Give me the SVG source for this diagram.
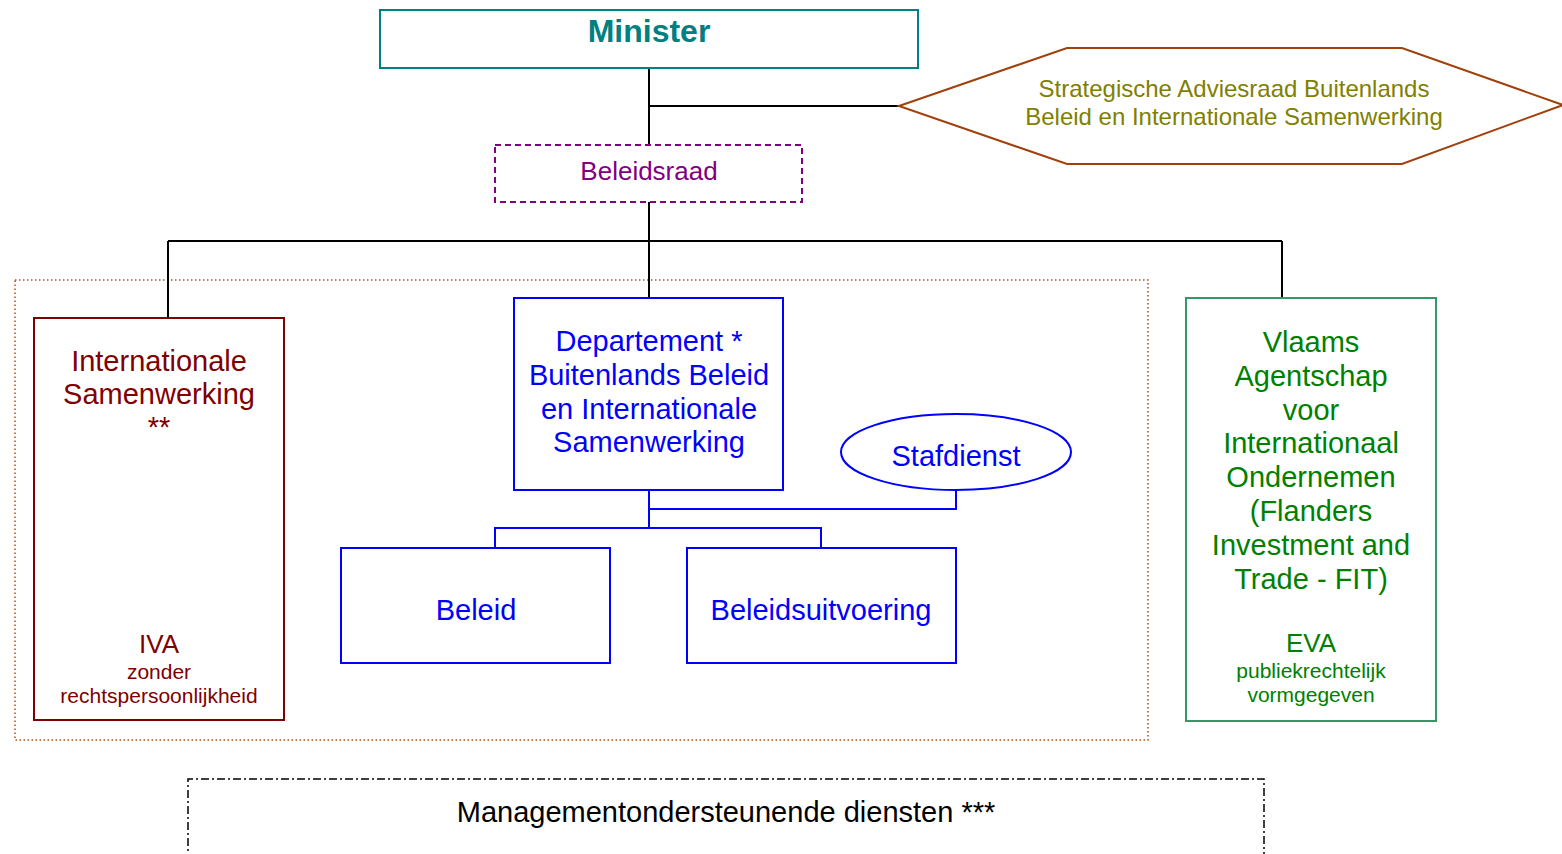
<svg xmlns="http://www.w3.org/2000/svg" width="1562" height="854" viewBox="0 0 1562 854">
<style>
text{font-family:"Liberation Sans",Arial,sans-serif;text-anchor:middle}
.box{fill:#fff;stroke-width:2}
.conn{fill:none;stroke:#000;stroke-width:2}
.bconn{fill:none;stroke:#0000ff;stroke-width:2}
.t29{font-size:29px}
.t21{font-size:21px}
.t26{font-size:26px}
</style>
<rect width="1562" height="854" fill="#fff"/>
<g id="container">
<rect x="15" y="280" width="1133" height="460" fill="none" stroke="#b0501a" stroke-width="1.5" stroke-dasharray="1.5,2.5"/>
</g>
<g id="connectors">
<path class="conn" d="M649 68V145M649 106H899M649 202V298M168 241H1282M168 241V318M1282 241V298"/>
<path class="bconn" d="M649 490V528M649 509H956V490M495 548V528H821V548"/>
</g>
<g id="minister">
<rect class="box" x="380" y="10" width="538" height="58" stroke="#008080"/>
<text x="649" y="42" font-size="32" font-weight="bold" fill="#008080">Minister</text>
</g>
<g id="sar">
<polygon points="899,106 1067,48 1402,48 1563,105 1402,164 1067,164" fill="#fff" stroke="#a0400a" stroke-width="2"/>
<text x="1234" y="97" font-size="24" fill="#808000">Strategische Adviesraad Buitenlands</text>
<text x="1234" y="125" font-size="24" fill="#808000">Beleid en Internationale Samenwerking</text>
</g>
<g id="beleidsraad">
<rect x="495" y="145" width="307" height="57" fill="#fff" stroke="#800080" stroke-width="2" stroke-dasharray="6,4"/>
<text x="649" y="180" font-size="26" fill="#800080">Beleidsraad</text>
</g>
<g id="iva">
<rect class="box" x="34" y="318" width="250" height="402" stroke="#800000"/>
<g fill="#800000">
<text class="t29" x="159" y="371">Internationale</text>
<text class="t29" x="159" y="404">Samenwerking</text>
<text class="t29" x="159" y="437">**</text>
<text class="t26" x="159" y="653">IVA</text>
<text class="t21" x="159" y="679">zonder</text>
<text class="t21" x="159" y="703">rechtspersoonlijkheid</text>
</g>
</g>
<g id="departement">
<rect class="box" x="514" y="298" width="269" height="192" stroke="#0000ff"/>
<g fill="#0000ff" class="t29">
<text x="649" y="351">Departement *</text>
<text x="649" y="385">Buitenlands Beleid</text>
<text x="649" y="419">en Internationale</text>
<text x="649" y="452">Samenwerking</text>
</g>
</g>
<g id="stafdienst">
<ellipse cx="956" cy="452" rx="115" ry="38" fill="#fff" stroke="#0000ff" stroke-width="2"/>
<text class="t29" x="956" y="466" fill="#0000ff">Stafdienst</text>
</g>
<g id="beleid">
<rect class="box" x="341" y="548" width="269" height="115" stroke="#0000ff"/>
<text class="t29" x="476" y="620" fill="#0000ff">Beleid</text>
</g>
<g id="beleidsuitvoering">
<rect class="box" x="687" y="548" width="269" height="115" stroke="#0000ff"/>
<text class="t29" x="821" y="620" fill="#0000ff">Beleidsuitvoering</text>
</g>
<g id="eva">
<rect class="box" x="1186" y="298" width="250" height="423" stroke="#339966"/>
<g fill="#008000">
<text class="t29" x="1311" y="352">Vlaams</text>
<text class="t29" x="1311" y="386">Agentschap</text>
<text class="t29" x="1311" y="420">voor</text>
<text class="t29" x="1311" y="453">Internationaal</text>
<text class="t29" x="1311" y="487">Ondernemen</text>
<text class="t29" x="1311" y="521">(Flanders</text>
<text class="t29" x="1311" y="555">Investment and</text>
<text class="t29" x="1311" y="589">Trade - FIT)</text>
<text class="t26" x="1311" y="652">EVA</text>
<text class="t21" x="1311" y="678">publiekrechtelijk</text>
<text class="t21" x="1311" y="702">vormgegeven</text>
</g>
</g>
<g id="mod">
<path d="M188 862V779H1264V862" fill="none" stroke="#000" stroke-width="1.5" stroke-dasharray="8,3,2,3"/>
<text class="t29" x="726" y="822" fill="#000">Managementondersteunende diensten ***</text>
</g>
</svg>
